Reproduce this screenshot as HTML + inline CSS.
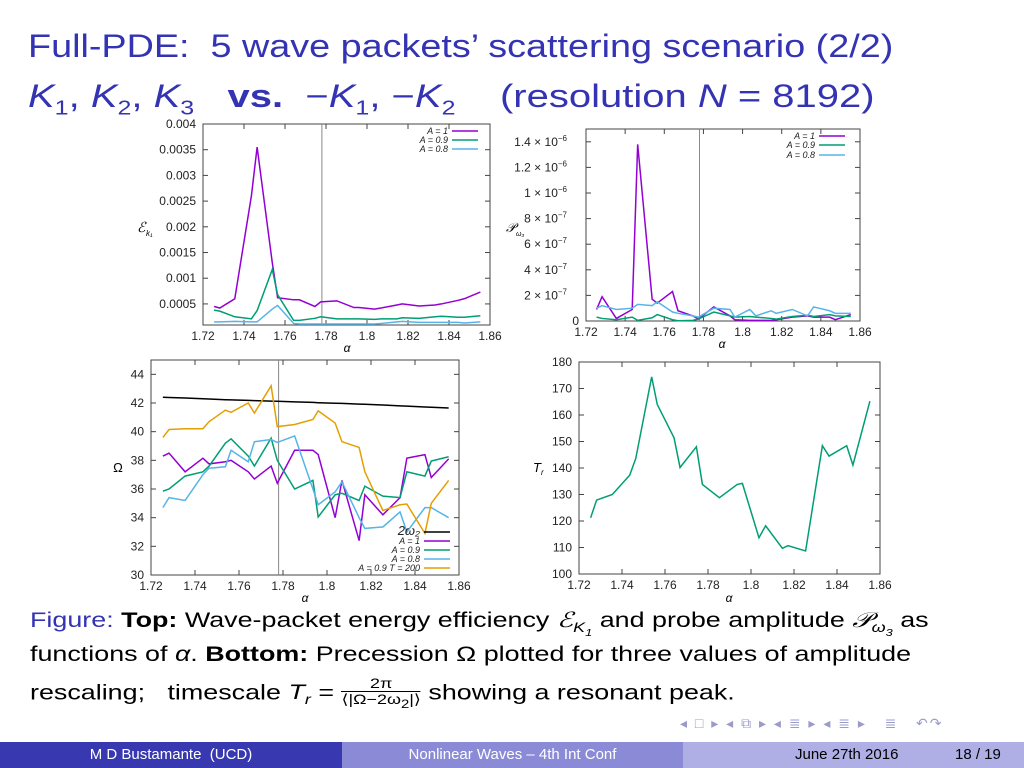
<!DOCTYPE html>
<html><head><meta charset="utf-8"><style>
body{margin:0;width:1024px;height:768px;overflow:hidden;background:#fff;font-family:"Liberation Sans",sans-serif;position:relative}
.t{position:absolute;white-space:nowrap;transform-origin:0 50%}
.title{color:#3333b3;font-size:32px}
.cap{font-size:21px;color:#000;left:30px}
.footer{position:absolute;top:742px;height:26px;color:#fff;font-size:15px;line-height:26px}
</style></head><body>
<div class="t title" style="left:28px;top:28px;transform:scaleX(1.18)">Full-PDE:&nbsp; 5 wave packets’ scattering scenario (2/2)</div>
<div class="t title" style="left:28px;top:78px;transform:scaleX(1.25)"><i>K</i><sub style="font-size:20px">1</sub>, <i>K</i><sub style="font-size:20px">2</sub>, <i>K</i><sub style="font-size:20px">3</sub> &nbsp;&nbsp;<b>vs.</b> &nbsp;−<i>K</i><sub style="font-size:20px">1</sub>, −<i>K</i><sub style="font-size:20px">2</sub> &nbsp;&nbsp;&nbsp;(resolution <i>N</i> = 8192)</div>

<svg id="charts" width="1024" height="610" style="position:absolute;left:0;top:0" font-family="Liberation Sans, sans-serif"></svg>

<div class="t cap" style="top:608px;transform:scaleX(1.28)"><span style="color:#3333b3">Figure:</span> <b>Top:</b> Wave-packet energy efficiency <i>ℰ<sub style="font-size:14px">K<sub style="font-size:10px">1</sub></sub></i> and probe amplitude <i>𝒫<sub style="font-size:14px">ω<sub style="font-size:10px">3</sub></sub></i> as</div>
<div class="t cap" style="top:643px;transform:scaleX(1.28)">functions of <i>α</i>. <b>Bottom:</b> Precession Ω plotted for three values of amplitude</div>
<div class="t cap" style="top:676px;transform:scaleX(1.28)">rescaling; &nbsp;&nbsp;timescale <i>T<sub style="font-size:14px">r</sub></i> = <span style="display:inline-block;vertical-align:middle;text-align:center;font-size:14px;line-height:15px"><span style="display:block;border-bottom:1px solid #000">2π</span><span style="display:block">⟨|Ω−2ω<sub>2</sub>|⟩</span></span> showing a resonant peak.</div>

<div class="t" style="left:680px;top:715px;color:#9a9acc;font-size:14px;letter-spacing:2px">◂ □ ▸ ◂ ⧉ ▸ ◂ ≣ ▸ ◂ ≣ ▸ &nbsp;&nbsp;≣ &nbsp;&nbsp;↶↷</div>

<div class="footer" style="left:0;width:342px;background:#3838b0;text-align:center">M D Bustamante&nbsp; (UCD)</div>
<div class="footer" style="left:342px;width:341px;background:#8a8ad6;text-align:center">Nonlinear Waves – 4th Int Conf</div>
<div class="footer" style="left:683px;width:341px;background:#afafe6;color:#000"><span style="position:absolute;left:112px">June 27th 2016</span><span style="position:absolute;left:272px">18 / 19</span></div>

<script>
const alpha=[1.7254,1.7282,1.7355,1.7436,1.7464,1.7538,1.7564,1.7642,1.767,1.7746,1.7774,1.7853,1.7936,1.796,1.8037,1.8068,1.8146,1.8172,1.8254,1.8332,1.8363,1.8445,1.8474,1.8553];
const xTicks=[1.72,1.74,1.76,1.78,1.8,1.82,1.84,1.86];
const xTickLabels=["1.72","1.74","1.76","1.78","1.8","1.82","1.84","1.86"];
const markerAlpha=1.778;
const eA1=[0.00045,0.00042,0.0006,0.0026,0.00355,0.0013,0.00062,0.00058,0.00058,0.00045,0.00054,0.00056,0.00043,0.00043,0.0004,0.00042,0.00048,0.0005,0.00046,0.00048,0.0005,0.00057,0.0006,0.00073];
const eA09=[0.00038,0.00036,0.00025,0.00021,0.00037,0.00117,0.00068,0.00018,0.00018,0.00022,0.00025,0.00021,0.00021,0.00021,0.0002,0.00021,0.00021,0.00023,0.00022,0.00025,0.00026,0.00024,0.00024,0.00027];
const eA08=[0.00015,0.00015,0.00016,0.00015,0.00015,0.0004,0.00047,0.00012,0.00011,0.00011,0.00011,0.00011,0.00011,0.00011,0.00011,0.00012,0.00015,0.00016,0.00014,0.00014,0.00014,0.00014,0.00013,0.00015];
const eTicks=[0.0005,0.001,0.0015,0.002,0.0025,0.003,0.0035,0.004];
const eTickLabels=["0.0005","0.001","0.0015","0.002","0.0025","0.003","0.0035","0.004"];
const pA1=[0.9,1.9,0.2,0.9,13.8,1.7,1.4,2.3,0.8,0.4,0.15,1.1,0.4,0.1,0.05,0.05,0.05,0.1,0.3,0.4,0.3,0.3,0.1,0.5];
const pA09=[0.3,0.2,0.1,0.3,0.05,0.25,0.5,0.1,0.02,0.05,0.15,0.7,0.4,0.3,0.35,0.3,0.2,0.15,0.35,0.45,0.35,0.5,0.4,0.35];
const pA08=[1.0,1.2,0.9,1.0,1.3,1.2,1.5,0.7,0.6,0.4,0.3,1.0,0.9,0.3,0.9,0.4,0.8,0.6,0.9,0.4,1.1,0.8,0.6,0.6];
const pTicks=[0,2,4,6,8,10,12,14];
const pTickMant=["0","2","4","6","8","1","1.2","1.4"];
const pTickExp=["","−7","−7","−7","−7","−6","−6","−6"];
const o2w2=[42.4,42.38,42.35,42.3,42.28,42.23,42.22,42.18,42.17,42.13,42.12,42.08,42.04,42.02,41.98,41.97,41.92,41.91,41.86,41.8,41.78,41.72,41.7,41.65];
const oA1=[38.3,38.5,37.2,38.15,37.75,37.9,38.0,37.2,36.7,37.6,36.4,38.7,38.7,38.4,34.0,36.6,32.4,35.6,34.2,35.4,38.15,38.4,36.8,38.1];
const oA09=[35.85,36.0,36.9,37.2,37.6,39.2,39.5,38.3,37.6,39.55,38.0,36.0,36.6,34.05,35.6,35.7,35.2,36.2,35.5,35.4,37.2,36.9,37.95,38.25];
const oA08=[34.7,35.4,35.2,37.0,37.45,37.55,38.7,37.9,39.3,39.45,39.25,39.7,36.0,34.9,35.8,36.5,34.0,33.25,33.35,34.4,33.0,34.7,34.7,34.0];
const oT200=[39.6,40.15,40.2,40.2,40.7,41.5,41.35,42.0,41.3,43.2,40.35,40.5,40.85,41.45,40.6,39.3,38.9,37.2,34.5,34.9,34.95,32.9,35.0,36.6];
const oTicks=[30,32,34,36,38,40,42,44];
const tr=[121.2,127.9,130,137.3,143.6,174.4,164,151.4,140.2,148,133.8,128.8,133.8,134.2,113.7,118.2,109.7,110.7,108.7,148.4,144.5,148.4,141.1,165.2];
const trTicks=[100,110,120,130,140,150,160,170,180];

const NS="http://www.w3.org/2000/svg";
const svg=document.getElementById('charts');
function mk(tag,attrs,parent){const e=document.createElementNS(NS,tag);for(const k in attrs)e.setAttribute(k,attrs[k]);(parent||svg).appendChild(e);return e;}
function txt(s,attrs,parent){const e=mk('text',attrs,parent);e.textContent=s;return e;}

function chart(name,box,ymin,ymax,yt,ylabFn,series,legend,vline){
  const g=mk('g',{});
  
  
  const X=v=>box.l+(v-1.72)/(0.14)*(box.r-box.l);
  const Y=v=>box.b-(v-ymin)/(ymax-ymin)*(box.b-box.t);
  const frame=mk('rect',{x:box.l,y:box.t,width:box.r-box.l,height:box.b-box.t,fill:'none',stroke:'#444','stroke-width':1},g);
  
  
  xTicks.forEach((t,i)=>{
    const x=X(t);
    mk('line',{x1:x,x2:x,y1:box.b,y2:box.b-5,stroke:'#444'},g);
    mk('line',{x1:x,x2:x,y1:box.t,y2:box.t+5,stroke:'#444'},g);
    const l=txt(xTickLabels[i],{x:x,y:box.b+15,'font-size':12,'text-anchor':'middle',fill:'#222'},g);
    
    
  });
  yt.forEach((t,i)=>{
    const y=Y(t);
    mk('line',{x1:box.l,x2:box.l+5,y1:y,y2:y,stroke:'#444'},g);
    mk('line',{x1:box.r,x2:box.r-5,y1:y,y2:y,stroke:'#444'},g);
    ylabFn(i,box.l-7,y+4,g);
  });
  if(vline){const v=mk('line',{x1:X(markerAlpha),x2:X(markerAlpha),y1:box.t,y2:box.b,stroke:'#888','stroke-width':1},g);
    
    }
  series.forEach(s=>{
    const p=mk('polyline',{points:s.d.map((v,i)=>X(alpha[i])+','+Y(v)).join(' '),fill:'none',stroke:s.c,'stroke-width':1.5},g);
    
    
  });
  legend.forEach(l=>{
    const t=txt(l.t,{x:l.x,y:l.y+3,'font-size':l.fs||9,'text-anchor':'end','font-style':'italic',fill:'#222'},g);
    
    
    const ln=mk('line',{x1:l.x+4,x2:l.x+30,y1:l.y,y2:l.y,stroke:l.c,'stroke-width':1.5},g);
    
    
  });
  return {g,X,Y};
}
function simpleLab(labels){return (i,x,y,g)=>{const t=txt(labels[i],{x:x,y:y,'font-size':12,'text-anchor':'end',fill:'#222'},g);
  
  };}

chart('energy-efficiency-chart',{l:203,r:490,t:124,b:325},0.00009,0.004,eTicks,simpleLab(eTickLabels),
 [{d:eA1,c:'#9400d3',n:'series-a1'},{d:eA09,c:'#009e73',n:'series-a09'},{d:eA08,c:'#56b4e9',n:'series-a08'}],
 [{t:'A = 1',x:448,y:131,c:'#9400d3'},{t:'A = 0.9',x:448,y:140,c:'#009e73'},{t:'A = 0.8',x:448,y:149,c:'#56b4e9'}],true);
txt('ℰ',{x:137,y:232,'font-size':14,'font-style':'italic'});
txt('k₁',{x:146,y:236,'font-size':8,'font-style':'italic'});
txt('α',{x:347,y:352,'font-size':12,'text-anchor':'middle','font-style':'italic'});

chart('probe-amplitude-chart',{l:586,r:860,t:129,b:321},0,15,pTicks,(i,x,y,g)=>{
  const t=txt('',{x:x,y:y,'font-size':12,'text-anchor':'end',fill:'#222'},g);
  
  
  if(pTickExp[i]===''){t.textContent=pTickMant[i];return;}
  t.textContent=pTickMant[i]+' × 10';
  const sp=mk('tspan',{dy:-5,'font-size':8},t);sp.textContent=pTickExp[i];
  t.setAttribute('x',x-12);
 },
 [{d:pA1,c:'#9400d3',n:'series-a1'},{d:pA09,c:'#009e73',n:'series-a09'},{d:pA08,c:'#56b4e9',n:'series-a08'}],
 [{t:'A = 1',x:815,y:136,c:'#9400d3'},{t:'A = 0.9',x:815,y:145,c:'#009e73'},{t:'A = 0.8',x:815,y:155,c:'#56b4e9'}],true);
txt('𝒫',{x:506,y:232,'font-size':13,'font-style':'italic'});
txt('ω₃',{x:516,y:236,'font-size':7,'font-style':'italic'});
txt('α',{x:722,y:348,'font-size':12,'text-anchor':'middle','font-style':'italic'});

chart('precession-chart',{l:151,r:459,t:360,b:575},30,45,oTicks,simpleLab(oTicks.map(String)),
 [{d:o2w2,c:'#000',n:'series-2w2'},{d:oA1,c:'#9400d3',n:'series-a1'},{d:oA09,c:'#009e73',n:'series-a09'},{d:oA08,c:'#56b4e9',n:'series-a08'},{d:oT200,c:'#e69f00',n:'series-a09-t200'}],
 [{t:'2ω₂',x:420,y:532,c:'#000',fs:13},{t:'A = 1',x:420,y:541,c:'#9400d3'},{t:'A = 0.9',x:420,y:550,c:'#009e73'},{t:'A = 0.8',x:420,y:559,c:'#56b4e9'},{t:'A = 0.9  T = 200',x:420,y:568,c:'#e69f00'}],true);
txt('Ω',{x:118,y:472,'font-size':13,'text-anchor':'middle'});
txt('α',{x:305,y:602,'font-size':12,'text-anchor':'middle','font-style':'italic'});

chart('timescale-chart',{l:579,r:880,t:362,b:574},100,180,trTicks,simpleLab(trTicks.map(String)),
 [{d:tr,c:'#009e73',n:'series-tr'}],[],false);
txt('T',{x:533,y:472,'font-size':13,'font-style':'italic'});
txt('r',{x:541,y:475,'font-size':8,'font-style':'italic'});
txt('α',{x:729,y:602,'font-size':12,'text-anchor':'middle','font-style':'italic'});
</script>
</body></html>
